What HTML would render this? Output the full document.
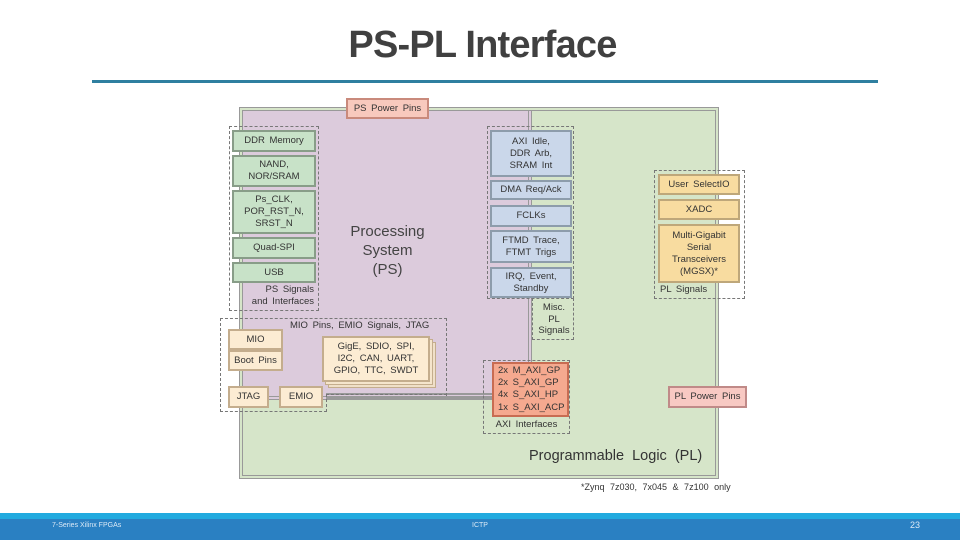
<!DOCTYPE html>
<html><head><meta charset="utf-8"><style>
*{margin:0;padding:0;box-sizing:border-box}
body{width:960px;height:540px;position:relative;background:#fff;font-family:"Liberation Sans",sans-serif;overflow:hidden}
.a{position:absolute}
.t{display:flex;align-items:center;justify-content:center;text-align:center;font-size:9.5px;color:#333;line-height:12px;word-spacing:2px}
.g{background:#c8e2c8;border:2px solid #889d88}
.b{background:#cad7ea;border:2px solid #8d9cab}
.y{background:#f8dca0;border:2px solid #bea77a}
.c{background:#fcecd3;border:2px solid #c4ad8d}
.d{border:1px dashed #777}
.l{font-size:9.5px;color:#333;line-height:12px;word-spacing:2px}
</style></head><body>
<div class="a" style="left:0;top:24px;width:965px;text-align:center;font-size:38px;font-weight:bold;color:#404040;letter-spacing:-0.8px">PS-PL Interface</div>
<div class="a" style="left:92px;top:80px;width:786px;height:3px;background:#2f7fa0"></div>

<div class="a" style="left:239px;top:107px;width:480px;height:372px;background:#d6e5c9;border:4px double #999"></div>
<div class="a" style="left:243px;top:111px;width:289px;height:289px;background:#dccbdc;border-right:4px double #999;border-bottom:4px double #999"></div>
<div class="a" style="left:326px;top:393px;width:168px;height:6px;border-top:2px solid #999;border-bottom:2px solid #999"></div>

<div class="a t" style="left:346px;top:98px;width:83px;height:21px;background:#f8c9bd;border:2px solid #c98a7c">PS Power Pins</div>

<div class="a" style="left:330px;top:222px;width:115px;text-align:center;font-size:15px;line-height:19px;color:#444">Processing<br>System<br>(PS)</div>

<div class="a d" style="left:229px;top:126px;width:90px;height:185px"></div>
<div class="a t g" style="left:232px;top:130px;width:84px;height:22px">DDR Memory</div>
<div class="a t g" style="left:232px;top:155px;width:84px;height:32px">NAND,<br>NOR/SRAM</div>
<div class="a t g" style="left:232px;top:190px;width:84px;height:44px">Ps_CLK,<br>POR_RST_N,<br>SRST_N</div>
<div class="a t g" style="left:232px;top:237px;width:84px;height:22px">Quad-SPI</div>
<div class="a t g" style="left:232px;top:262px;width:84px;height:21px">USB</div>
<div class="a l" style="left:240px;top:284px;width:74px;text-align:right">PS Signals<br>and Interfaces</div>

<div class="a d" style="left:487px;top:126px;width:87px;height:173px"></div>
<div class="a d" style="left:532px;top:298px;width:42px;height:42px;border-top:none"></div>
<div class="a t b" style="left:490px;top:130px;width:82px;height:47px">AXI Idle,<br>DDR Arb,<br>SRAM Int</div>
<div class="a t b" style="left:490px;top:180px;width:82px;height:20px">DMA Req/Ack</div>
<div class="a t b" style="left:490px;top:205px;width:82px;height:22px">FCLKs</div>
<div class="a t b" style="left:490px;top:230px;width:82px;height:33px">FTMD Trace,<br>FTMT Trigs</div>
<div class="a t b" style="left:490px;top:267px;width:82px;height:31px">IRQ, Event,<br>Standby</div>
<div class="a l" style="left:534px;top:302px;width:40px;text-align:center;line-height:11.5px">Misc.<br>PL<br>Signals</div>

<div class="a d" style="left:654px;top:170px;width:91px;height:129px"></div>
<div class="a t y" style="left:658px;top:174px;width:82px;height:21px">User SelectIO</div>
<div class="a t y" style="left:658px;top:199px;width:82px;height:21px">XADC</div>
<div class="a t y" style="left:658px;top:224px;width:82px;height:59px">Multi-Gigabit<br>Serial<br>Transceivers<br>(MGSX)*</div>
<div class="a l" style="left:660px;top:284px">PL Signals</div>

<div class="a d" style="left:220px;top:318px;width:227px;height:78px;border-bottom:none"></div>
<div class="a d" style="left:220px;top:394px;width:107px;height:18px;border-top:none"></div>
<div class="a" style="left:326px;top:394px;width:121px;border-top:1px dashed #777"></div>
<div class="a l" style="left:290px;top:320px">MIO Pins, EMIO Signals, JTAG</div>
<div class="a t c" style="left:228px;top:329px;width:55px;height:21px">MIO</div>
<div class="a t c" style="left:228px;top:350px;width:55px;height:21px">Boot Pins</div>
<div class="a" style="left:328px;top:342px;width:108px;height:46px;background:#f0e0c8;border:1px solid #c4ad8d"></div>
<div class="a" style="left:325px;top:339px;width:108px;height:46px;background:#f5e5cc;border:1px solid #c4ad8d"></div>
<div class="a t c" style="left:322px;top:336px;width:108px;height:46px">GigE, SDIO, SPI,<br>I2C, CAN, UART,<br>GPIO, TTC, SWDT</div>
<div class="a t c" style="left:228px;top:386px;width:41px;height:22px">JTAG</div>
<div class="a t c" style="left:279px;top:386px;width:44px;height:22px">EMIO</div>

<div class="a d" style="left:483px;top:360px;width:87px;height:74px"></div>
<div class="a" style="left:492px;top:362px;width:77px;height:55px;background:#f5a98f;border:2px solid #c86c52;font-size:9.5px;line-height:12.2px;color:#333;padding:1px 0 0 4px;word-spacing:2px">2x M_AXI_GP<br>2x S_AXI_GP<br>4x S_AXI_HP<br>1x S_AXI_ACP</div>
<div class="a l" style="left:483px;top:419px;width:87px;text-align:center">AXI Interfaces</div>

<div class="a t" style="left:668px;top:386px;width:79px;height:22px;background:#f8c9c3;border:2px solid #c08a88">PL Power Pins</div>

<div class="a" style="left:529px;top:448px;font-size:14.5px;color:#333;word-spacing:4px">Programmable Logic (PL)</div>
<div class="a" style="left:581px;top:482px;font-size:9px;color:#333;word-spacing:3px">*Zynq 7z030, 7x045 &amp; 7z100 only</div>

<div class="a" style="left:0;top:513px;width:960px;height:6px;background:#22aadf"></div>
<div class="a" style="left:0;top:519px;width:960px;height:21px;background:#2a80c2"></div>
<div class="a" style="left:52px;top:522px;font-size:7px;color:#dbe9f6">7-Series Xilinx FPGAs</div>
<div class="a" style="left:472px;top:522px;font-size:7px;color:#dbe9f6">ICTP</div>
<div class="a" style="left:910px;top:520px;font-size:9px;color:#dbe9f6">23</div>
</body></html>
